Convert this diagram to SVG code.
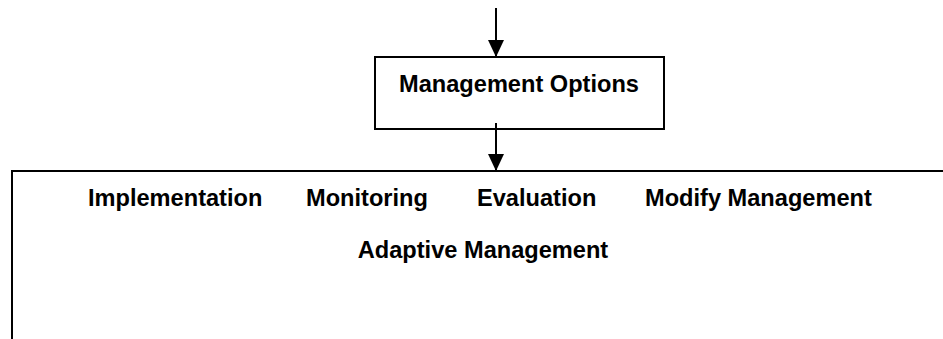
<svg xmlns="http://www.w3.org/2000/svg" width="943" height="339" viewBox="0 0 943 339">
<style>
.t{font-family:"Liberation Sans",Arial,sans-serif;font-weight:bold;font-size:23.6px;fill:#000}
.box{fill:#fff;stroke:#000;stroke-width:2}
.c{stroke:#000;stroke-width:2;fill:none}
</style>
<defs>
<marker id="ah" markerWidth="17" markerHeight="17" refX="17" refY="8" orient="auto" markerUnits="userSpaceOnUse">
<path d="M0,0 L17,8 L0,16 Z" fill="#000"/>
</marker>
</defs>
<g id="adaptive-management">
<path class="box" d="M12,345 L12,171 L950,171"/>
<text class="t" x="88" y="206">Implementation</text>
<text class="t" x="306" y="206">Monitoring</text>
<text class="t" x="477" y="206">Evaluation</text>
<text class="t" x="645" y="206">Modify Management</text>
<text class="t" x="483" y="258" text-anchor="middle">Adaptive Management</text>
</g>
<g id="management-options">
<rect class="box" x="375" y="57" width="289" height="72"/>
<text class="t" x="519" y="92" text-anchor="middle">Management Options</text>
</g>
<g id="connectors">
<line class="c" x1="496" y1="8" x2="496" y2="57" marker-end="url(#ah)"/>
<line class="c" x1="496" y1="123" x2="496" y2="171" marker-end="url(#ah)"/>
</g>
</svg>
